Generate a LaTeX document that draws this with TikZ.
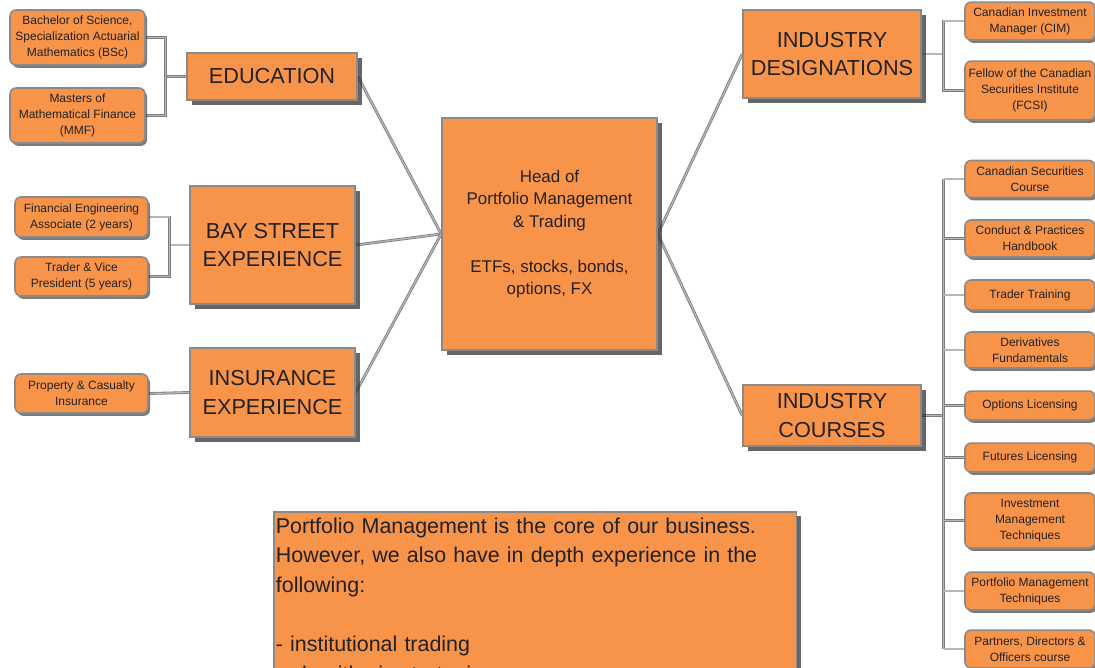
\documentclass[tikz,border=0pt]{standalone}
\usepackage{fontspec}
\setmainfont{Liberation Sans}
\usetikzlibrary{shadows}

\definecolor{boxfill}{RGB}{247,148,74}
\definecolor{boxline}{RGB}{138,138,138}
\definecolor{linkgray}{RGB}{125,125,125}
\definecolor{inkgray}{RGB}{34,34,34}

\pgfdeclarelayer{background}
\pgfsetlayers{background,main}

\begin{document}
\begin{tikzpicture}[x=0.5669pt, y=-0.5669pt,
    topic/.style = {rectangle, draw=boxline, fill=boxfill, line width=0.9pt, text=inkgray,
                    align=center, inner sep=0pt, font=\fontsize{12.3pt}{16.4pt}\selectfont,
                    drop shadow={shadow xshift=2.6pt, shadow yshift=-2.6pt, fill=black!80, opacity=.75}},
    hub/.style   = {topic, font=\fontsize{9.6pt}{12.75pt}\selectfont},
    leaf/.style  = {rectangle, rounded corners=3.5pt, draw=boxline, fill=boxfill, line width=0.9pt,
                    text=inkgray, align=center, inner sep=0pt, minimum width=73.7pt,
                    font=\fontsize{6.8pt}{9.1pt}\selectfont,
                    drop shadow={shadow xshift=1.2pt, shadow yshift=-1.6pt, fill=black!80, opacity=.65}},
    note/.style  = {topic, align=left, inner xsep=1.2pt, inner ysep=3.3pt, text width=294pt,
                    font=\fontsize{12.15pt}{16.8pt}\selectfont},
    link/.style  = {draw=linkgray, line width=0.45pt, double=linkgray!55!white, double distance=0.7pt}]

    \useasboundingbox (0,0) rectangle (1095,667);

    % Centre
    \node[hub, minimum width=121.9pt, minimum height=131.5pt] (head) at (549.5,234)
        {Head of\\Portfolio Management\\\& Trading\\[12.75pt]ETFs, stocks, bonds,\\options, FX};

    % Left topics
    \node[topic, minimum width=96.4pt, minimum height=26.6pt] (edu) at (272,76.5) {EDUCATION};
    \node[topic, minimum width=93.5pt, minimum height=66.9pt] (bay) at (272.5,245) {BAY STREET\\EXPERIENCE};
    \node[topic, minimum width=93.5pt, minimum height=50.5pt] (ins) at (272.5,392.5) {INSURANCE\\EXPERIENCE};

    % Right topics
    \node[topic, minimum width=100.9pt, minimum height=49.9pt] (desig) at (832,54) {INDUSTRY\\DESIGNATIONS};
    \node[topic, minimum width=100.9pt, minimum height=34.6pt] (courses) at (832,415.5) {INDUSTRY\\COURSES};

    % Left leaves
    \node[leaf, minimum width=76.5pt, minimum height=31.2pt] (bsc) at (77.5,37.5)
        {Bachelor of Science,\\Specialization Actuarial\\Mathematics (BSc)};
    \node[leaf, minimum width=76.5pt, minimum height=31.2pt] (mmf) at (77.5,115.5)
        {Masters of\\Mathematical Finance\\(MMF)};
    \node[leaf, minimum width=75.4pt, minimum height=22.7pt] (fea) at (81.5,217)
        {Financial Engineering\\Associate (2 years)};
    \node[leaf, minimum width=75.4pt, minimum height=22.1pt] (tvp) at (81.5,276.5)
        {Trader \& Vice\\President (5 years)};
    \node[leaf, minimum width=75.4pt, minimum height=22.1pt] (pc) at (81.5,393.5)
        {Property \& Casualty\\Insurance};

    % Right leaves
    \node[leaf, minimum height=21.5pt] (cim)  at (1030,21)   {Canadian Investment\\Manager (CIM)};
    \node[leaf, minimum height=33.4pt] (fcsi) at (1030,90.5) {Fellow of the Canadian\\Securities Institute\\(FCSI)};

    \node[leaf, minimum height=21pt]   (c1) at (1030,179)   {Canadian Securities\\Course};
    \node[leaf, minimum height=21pt]   (c2) at (1030,238.5) {Conduct \& Practices\\Handbook};
    \node[leaf, minimum height=17pt]   (c3) at (1030,295)   {Trader Training};
    \node[leaf, minimum height=20.4pt] (c4) at (1030,350)   {Derivatives\\Fundamentals};
    \node[leaf, minimum height=16.4pt] (c5) at (1030,405.5) {Options Licensing};
    \node[leaf, minimum height=16.4pt] (c6) at (1030,457.5) {Futures Licensing};
    \node[leaf, minimum height=31.2pt] (c7) at (1030,520.5) {Investment\\Management\\Techniques};
    \node[leaf, minimum height=21.5pt] (c8) at (1030,591)   {Portfolio Management\\Techniques};
    \node[leaf, minimum height=21.5pt] (c9) at (1030,649)   {Partners, Directors \&\\Officers course};

    % Note
    \node[note, anchor=north west] (note) at (273,511)
        {Portfolio Management is the core of our business.\\However, we also have in depth experience in the\\following:\\[16.8pt]- institutional trading\\- algorithmic strategies};

    % Connectors
    \begin{pgfonlayer}{background}
        \draw[link] (edu.east) -- (head.west);
        \draw[link] (bay.east) -- (head.west);
        \draw[link] (ins.east) -- (head.west);
        \draw[link] (head.east) -- (desig.west);
        \draw[link] (head.east) -- (courses.west);

        \draw[link] (edu.west) -- ++(-21,0) coordinate (edubus);
        \draw[link] (bsc.east) -| (edubus) |- (mmf.east);
        \draw[link] (bay.west) -- ++(-20,0) coordinate (baybus);
        \draw[link] (fea.east) -| (baybus) |- (tvp.east);
        \draw[link] (pc.east) -- (ins.west);

        \draw[link] (desig.east) -- ++(22,0) coordinate (desbus);
        \draw[link] (cim.west) -| (desbus) |- (fcsi.west);
        \draw[link] (courses.east) -- ++(22,0) coordinate (crsbus);
        \draw[link] (crsbus |- c1.west) -- (crsbus |- c9.west);
        \foreach \i in {1,...,9}
            \draw[link] (crsbus |- c\i.west) -- (c\i.west);
    \end{pgfonlayer}
\end{tikzpicture}
\end{document}
